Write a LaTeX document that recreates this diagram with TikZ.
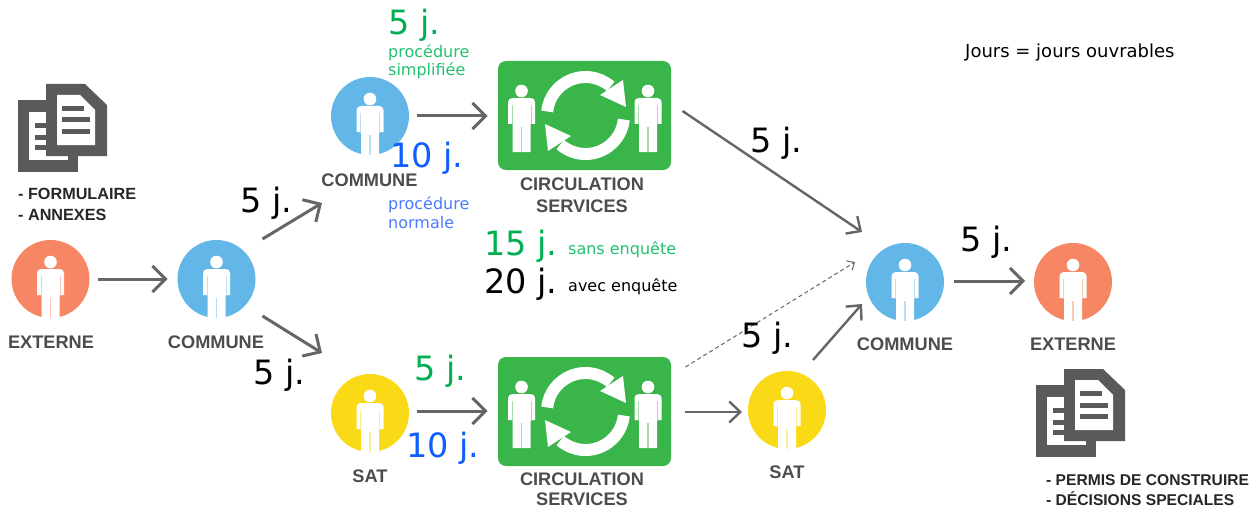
\documentclass[tikz,border=0pt]{standalone}
\usepackage{fontspec}
\setmainfont{DejaVu Sans}
\newfontfamily\lblfont{Liberation Sans}
\usetikzlibrary{arrows.meta}
\definecolor{cblue}{HTML}{63B7E8}
\definecolor{corange}{HTML}{F78764}
\definecolor{cyellow}{HTML}{FADA16}
\definecolor{cgreen}{HTML}{3AB54A}
\definecolor{cgray}{HTML}{5A5A5C}
\definecolor{carrow}{HTML}{666666}
\definecolor{tgreen}{HTML}{00B050}
\definecolor{tgreenl}{HTML}{22C070}
\definecolor{tblue}{HTML}{0F5FFF}
\definecolor{tbluel}{HTML}{4A7BFF}
\tikzset{
  x=1pt,y=-1pt,
  disc/.style={circle,minimum size=78pt,inner sep=0pt,outer sep=0pt,fill=#1},
  greenbox/.style={rectangle,rounded corners=8pt,minimum width=173pt,minimum height=109pt,inner sep=0pt,outer sep=0pt,fill=cgreen},
  arr/.style={draw=carrow,line width=3pt,-{Straight Barb[length=13pt,width=26pt,line width=3pt]}},
  arrthin/.style={draw=carrow,line width=2.4pt,-{Straight Barb[length=11pt,width=21pt,line width=2.4pt]}},
  arrdash/.style={draw=carrow,line width=1pt,dash pattern=on 4pt off 3pt,-{Straight Barb[length=6pt,width=11pt,line width=1pt]}},
  big/.style={anchor=base west,inner sep=0pt,font=\fontsize{33.5}{33.5}\selectfont},
  small/.style={anchor=base west,inner sep=0pt,font=\fontsize{16}{16}\selectfont},
  lbl/.style={anchor=base,inner sep=0pt,text=cgray!85!black,font=\lblfont\bfseries\fontsize{18.2}{18.2}\selectfont},
  lstb/.style={anchor=base west,inner sep=0pt,text=black!85,font=\lblfont\bfseries\fontsize{16.2}{16.2}\selectfont},
  lstc/.style={anchor=base west,inner sep=0pt,text=black!85,font=\lblfont\bfseries\fontsize{15.6}{15.6}\selectfont},
  pics/person/.style={code={
    \fill[white] (0,-17) circle[radius=6.3];
    \fill[white] (-13.5,16) -- (-13.5,-6) .. controls (-13.5,-8.5) and (-11.5,-10) .. (-9,-10) -- (9,-10) .. controls (11.5,-10) and (13.5,-8.5) .. (13.5,-6) -- (13.5,16) -- (9,16) -- (9,#1) -- (-9,#1) -- (-9,16) -- cycle;
  }},
  pics/persongaps/.style={code={
    \draw[#1,line width=1pt] (-9.5,-3) -- (-9.5,16.5) (9.5,-3) -- (9.5,16.5);
    \draw[#1,line width=1.6pt] (0,19) -- (0,39);
  }},
  pics/cycle/.style={code={
    \foreach \r in {0,180}{
      \begin{scope}[rotate=\r]
        \draw[white,line width=12pt] (0,0) ++(186:38.5) arc[start angle=186,end angle=311,radius=38.5];
        \fill[white] (37.5,-35.5) -- (40.5,-8.5) -- (14.5,-20.5) -- cycle;
      \end{scope}
    }
  }},
  pics/doc/.style={code={
    \fill[cgray] (0,16) rectangle (60,88);
    \fill[white] (11,28) rectangle (50,76);
    \fill[cgray] (17,39) rectangle (30,44);
    \fill[cgray] (17,51) rectangle (30,56);
    \fill[cgray] (17,61) rectangle (30,66);
    \fill[cgray] (28,0) -- (67,0) -- (89,21) -- (89,72) -- (28,72) -- cycle;
    \fill[white] (39,11) -- (62,11) -- (77,26) -- (77,61) -- (39,61) -- cycle;
    \fill[cgray] (44,22) rectangle (66,27);
    \fill[cgray] (44,33.5) rectangle (72,38.5);
    \fill[cgray] (44,44.5) rectangle (72,49.5);
  }},
}
\begin{document}
\begin{tikzpicture}
\useasboundingbox (0,0) rectangle (1257,508);
% discs
\node[disc=corange] (ext1) at (50.5,279) {};
\node[disc=cblue] (com1) at (216.5,279) {};
\node[disc=cblue] (com2) at (370,116) {};
\node[disc=cyellow] (sat1) at (370,413) {};
\node[disc=cyellow] (sat2) at (787,410) {};
\node[disc=cblue] (com3) at (905,282) {};
\node[disc=corange] (ext2) at (1073,282) {};
\node[greenbox] (grn1) at (584.5,115.5) {};
\node[greenbox] (grn2) at (584.5,411.5) {};
% people
\foreach \n/\c in {ext1/corange,com1/cblue,com2/cblue,sat1/cyellow,sat2/cyellow,com3/cblue,ext2/corange}{
  \pic at (\n.center) {person=39};
  \pic at (\n.center) {persongaps={\c!45!white}};
}
\foreach \n in {grn1,grn2}{
  \pic at ([shift={(-63,-7.5)}]\n.center) {person=44};
  \pic at ([shift={(63.5,-7.5)}]\n.center) {person=44};
  \pic at ([shift={(-63,-7.5)}]\n.center) {persongaps={cgreen!45!white}};
  \pic at ([shift={(63.5,-7.5)}]\n.center) {persongaps={cgreen!45!white}};
  \draw[cgreen!45!white,line width=1.6pt] ([shift={(-63,-7.5)}]\n.center) ++(0,39) -- ++(0,5);
  \draw[cgreen!45!white,line width=1.6pt] ([shift={(63.5,-7.5)}]\n.center) ++(0,39) -- ++(0,5);
  \pic at ([shift={(1,0)}]\n.center) {cycle};
}
% documents
\pic at (18,84) {doc};
\pic at (1036,369) {doc};
% connectors
\draw[arr] ([shift={(47,0)}]ext1.center) -- ([shift={(-49,0)}]com1.center);
\draw[arr] ([shift={(46,-40)}]com1.center) -- ([shift={(-48,87)}]com2.center);
\draw[arr] ([shift={(46,37)}]com1.center) -- ([shift={(-48,-60)}]sat1.center);
\draw[arr] ([shift={(47,0)}]com2.center) -- ([shift={(-97,0.5)}]grn1.center);
\draw[arr] ([shift={(47,-2)}]sat1.center) -- ([shift={(-97,-0.5)}]grn2.center);
\draw[arr] ([shift={(49,-1)}]com3.center) -- ([shift={(-48,-1)}]ext2.center);
\draw[arrthin] ([shift={(26,-50)}]sat2.center) -- ([shift={(-43,22)}]com3.center);
\draw[arrthin] ([shift={(98,-4.5)}]grn1.center) -- ([shift={(-43,-50)}]com3.center);
\draw[arrthin] ([shift={(100,0.5)}]grn2.center) -- ([shift={(-45,2)}]sat2.center);
\draw[arrdash] ([shift={(101,-44.5)}]grn2.center) -- ([shift={(-50,-20)}]com3.center);
% labels
\node[lbl] (t1) at (51,348) {EXTERNE};
\node[lbl] (t2) at (216,348) {COMMUNE};
\node[lbl] (t3) at (369.5,186) {COMMUNE};
\node[lbl] (t4) at (370,482) {SAT};
\node[lbl] (t5) at (787,478) {SAT};
\node[lbl] (t6) at (905,350.5) {COMMUNE};
\node[lbl] (t7) at (1073,350.5) {EXTERNE};
\node[lbl] (t8) at (582,190.5) {CIRCULATION};
\node[lbl] (t9) at (582,212) {SERVICES};
\node[lbl] (t10) at (582,485) {CIRCULATION};
\node[lbl] (t11) at (582,505) {SERVICES};
\node[lstb] (d1) at (18,199.5) {- FORMULAIRE};
\node[lstb] (d2) at (18,220.5) {- ANNEXES};
\node[lstc] (d3) at (1046,485) {- PERMIS DE CONSTRUIRE};
\node[lstc] (d4) at (1046,505) {- DÉCISIONS SPECIALES};
% durations
\node[big,text=tgreen] (a1) at (388,35) {5 j.};
\node[small,text=tgreenl] (a2) at (388,58) {procédure};
\node[small,text=tgreenl] (a3) at (388,76) {simplifiée};
\node[big,text=tblue] (a4) at (390,167) {10 j.};
\node[small,text=tbluel] (a5) at (388,209) {procédure};
\node[small,text=tbluel] (a6) at (388,228) {normale};
\node[big,text=tgreen] (a7) at (484,255) {15 j.};
\node[small,text=tgreenl] (a8) at (568,254) {sans enquête};
\node[big] (a9) at (484,293) {20 j.};
\node[small] (a10) at (568,291) {avec enquête};
\node[big] (b1) at (240,212) {5 j.};
\node[big] (b2) at (750,152) {5 j.};
\node[big] (b3) at (960,251) {5 j.};
\node[big] (b4) at (253,384) {5 j.};
\node[big] (b5) at (741,347) {5 j.};
\node[big,text=tgreen] (b6) at (414,380) {5 j.};
\node[big,text=tblue] (b7) at (406,457) {10 j.};
\node[small,font=\fontsize{18}{18}\selectfont] (j) at (965,57.5) {Jours = jours ouvrables};
\end{tikzpicture}
\end{document}
